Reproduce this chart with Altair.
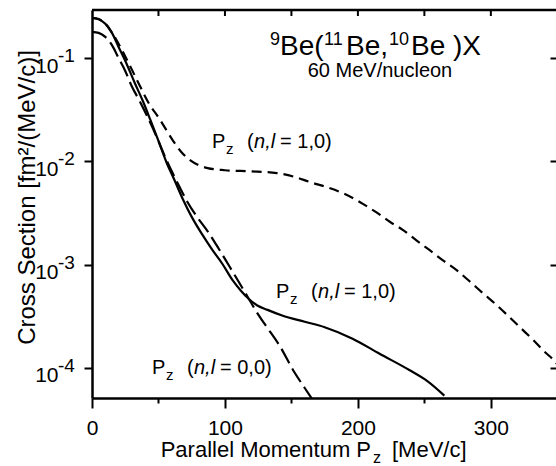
import altair as alt
import pandas as pd

# ---------------- data ----------------
solid_x = [0, 5, 10, 15, 20, 26, 32, 38, 44, 50, 56, 62, 68, 75, 83, 90, 98, 106, 112, 118,
           124, 132, 143, 160, 175, 196, 216, 239, 252, 265]
solid_v = [0.245, 0.237, 0.215, 0.175, 0.128, 0.088, 0.058, 0.039, 0.025, 0.0158, 0.0098,
           0.0066, 0.0044, 0.0029, 0.00195, 0.00142, 0.00102, 0.00070, 0.00056, 0.000465,
           0.000405, 0.000365, 0.000322, 0.000280, 0.000248, 0.000192, 0.000138, 0.000095,
           0.000075, 0.000054]

p00_x = [0, 5, 10, 15, 20, 25, 30, 36, 42, 48, 54, 60, 66, 72, 79, 87, 95, 103, 111, 118,
         124, 130, 141, 152, 160, 168]
p00_v = [0.179, 0.175, 0.16, 0.133, 0.1, 0.075, 0.053, 0.038, 0.0265, 0.018, 0.0118, 0.008,
         0.0056, 0.0040, 0.0029, 0.0021, 0.00145, 0.00098, 0.00066, 0.000465, 0.000345,
         0.000265, 0.000165, 0.000092, 0.000064, 0.000045]

p10_x = [0, 5, 10, 15, 21, 28, 35, 43, 51, 56, 61, 67, 74, 80, 87, 100, 119, 139, 152, 164,
         177, 189, 202, 214, 224, 234, 244, 254, 264, 274, 284, 294, 304, 314, 323, 332, 340,
         347, 350]
p10_v = [0.245, 0.238, 0.216, 0.176, 0.130, 0.087, 0.057, 0.036, 0.0255, 0.0200, 0.0158,
         0.0124, 0.0102, 0.0092, 0.0086, 0.0082, 0.0080, 0.0077, 0.0071, 0.0063, 0.0056,
         0.0049, 0.0040, 0.0032, 0.0026, 0.00216, 0.00172, 0.00138, 0.0011, 0.00089, 0.00069,
         0.00053, 0.00041, 0.00031, 0.00024, 0.000186, 0.000145, 0.00012, 0.000108]

x_tick_values = [0, 50, 100, 150, 200, 250, 300]
x_top_ticks = [50, 100, 150, 200, 250, 300]
y_decades = [1e-1, 1e-2, 1e-3, 1e-4]
y_exponents = ["-1", "-2", "-3", "-4"]

label_x = [90.3, 138.4, 45.1]
label_v = [0.01346, 4.755e-4, 8.75e-5]
label_tail = ["= 1,0)", "= 1,0)", "= 0,0)"]

title_x = [133.9]
title_v = [0.1069]
subtitle_x = [216.6]
subtitle_v = [0.0655]

# ---------------- layout ----------------
W, H = 464, 388
X_DOMAIN = [0, 349]
Y_DOMAIN = [5.12e-5, 0.2915]
FONT = "Liberation Sans"

xs = alt.Scale(domain=X_DOMAIN, nice=False, zero=False)
ys = alt.Scale(type="log", domain=Y_DOMAIN, nice=False)

bottom_axis = alt.Axis(
    orient="bottom", values=x_tick_values,
    tickSize={"condition": {"test": "datum.value % 100 === 0", "value": 10}, "value": 5},
    labelExpr="datum.value % 100 === 0 ? datum.label : ''",
    labelFontSize=21, labelPadding=9, tickWidth=2, domainWidth=2.5,
    grid=False, title=None, labelFlush=False)

left_axis = alt.Axis(
    orient="left", values=y_decades, tickSize=8, tickWidth=2, domainWidth=2.5,
    labelExpr="'10'", labelFontSize=21, labelPadding=26, labelBaseline="alphabetic",
    labelOffset=14, grid=False,
    title="Cross Section [fm\u00b2/(MeV/c)]", titleFontSize=24, titleFontWeight="normal",
    titleAngle=270, titleAlign="center", titleBaseline="alphabetic",
    titleX=-58, titleY=187)

right_axis = alt.Axis(orient="right", values=y_decades, offset=-6, tickSize=6, tickWidth=2,
                      labels=False, domain=False, grid=False, title=None)


def line(xv, vv, xaxis, yaxis, dash=None):
    df = pd.DataFrame({"X": xv, "V": vv})
    kw = dict(color="black", strokeWidth=2.2, clip=True, interpolate="monotone")
    if dash is not None:
        kw["strokeDash"] = dash
    return alt.Chart(df).mark_line(**kw).encode(
        x=alt.X("X:Q", scale=xs, axis=xaxis),
        y=alt.Y("V:Q", scale=ys, axis=yaxis))


solid = line(solid_x, solid_v, bottom_axis, left_axis)
p10 = line(p10_x, p10_v, None, right_axis, dash=[10, 6])
p00 = line(p00_x, p00_v, None, None, dash=[16, 6])

# top frame line and inward top ticks
one = pd.DataFrame({"a": [0]})
top_line = alt.Chart(one).mark_rule(color="black", strokeWidth=2.5).encode(
    x=alt.value(0), x2=alt.value(W), y=alt.value(0))
top_ticks = alt.Chart(pd.DataFrame({"X": x_top_ticks})).mark_rule(
    color="black", strokeWidth=2).encode(
    x=alt.X("X:Q", scale=xs, axis=None), y=alt.value(0), y2=alt.value(6))


def text_layer(df, xfield, vfield, **kw):
    base = dict(color="black", font=FONT, align="left", baseline="alphabetic")
    base.update(kw)
    return alt.Chart(df).mark_text(**base).encode(
        x=alt.X(f"{xfield}:Q", scale=xs, axis=None),
        y=alt.Y(f"{vfield}:Q", scale=ys, axis=None))


# y-axis exponents
exp_df = pd.DataFrame({"V": y_decades, "t": y_exponents})
exps = alt.Chart(exp_df).mark_text(color="black", font=FONT, align="left",
                                   baseline="alphabetic", fontSize=19, dy=4).encode(
    x=alt.value(-34), y=alt.Y("V:Q", scale=ys, axis=None), text="t:N")

# curve labels  P_z (n,l = ...)
lab_df = pd.DataFrame({"X": label_x, "V": label_v, "tail": label_tail})
labels = [
    text_layer(lab_df, "X", "V", text="P", fontSize=20),
    text_layer(lab_df, "X", "V", text="z", fontSize=15, dx=14, dy=6),
    text_layer(lab_df, "X", "V", text="(", fontSize=20, dx=35),
    text_layer(lab_df, "X", "V", text="n,l", fontSize=20, dx=42, fontStyle="italic"),
    text_layer(lab_df, "X", "V", fontSize=20, dx=68).encode(text="tail:N"),
]

# title 9Be(11Be,10Be )X
t_df = pd.DataFrame({"X": title_x, "V": title_v})
title_parts = [("9", 0, -10, 18), ("Be(", 10, 0, 28), ("11", 54, -10, 18),
               ("Be,", 76, 0, 28), ("10", 119, -10, 18), ("Be )X", 141, 0, 28)]
titles = [text_layer(t_df, "X", "V", text=s, dx=dx, dy=dy, fontSize=fs)
          for s, dx, dy, fs in title_parts]

st_df = pd.DataFrame({"X": subtitle_x, "V": subtitle_v})
subtitle = text_layer(st_df, "X", "V", text="60 MeV/nucleon", fontSize=20, align="center")

# x-axis title with subscript
xtitle = [
    alt.Chart(one).mark_text(text="Parallel Momentum P", font=FONT, fontSize=22, color="black",
                             align="right", baseline="alphabetic").encode(
        x=alt.value(279), y=alt.value(447)),
    alt.Chart(one).mark_text(text="z", font=FONT, fontSize=16, color="black",
                             align="left", baseline="alphabetic").encode(
        x=alt.value(281), y=alt.value(453)),
    alt.Chart(one).mark_text(text="[MeV/c]", font=FONT, fontSize=22, color="black",
                             align="left", baseline="alphabetic").encode(
        x=alt.value(300), y=alt.value(447)),
]

chart = alt.layer(solid, p10, p00, top_line, top_ticks, exps, *labels, *titles, subtitle,
                  *xtitle).resolve_axis(
    x="independent", y="independent"
).properties(
    width=W, height=H,
    padding={"left": 92, "top": 10, "right": 0, "bottom": 68},
    autosize=alt.AutoSizeParams(type="none"),
    background="white",
).configure_view(strokeWidth=0).configure_axis(
    domainColor="black", tickColor="black", labelColor="black", titleColor="black",
    labelFont=FONT, titleFont=FONT,
)

chart.save("out.html", embed_options={"renderer": "svg", "actions": False})
